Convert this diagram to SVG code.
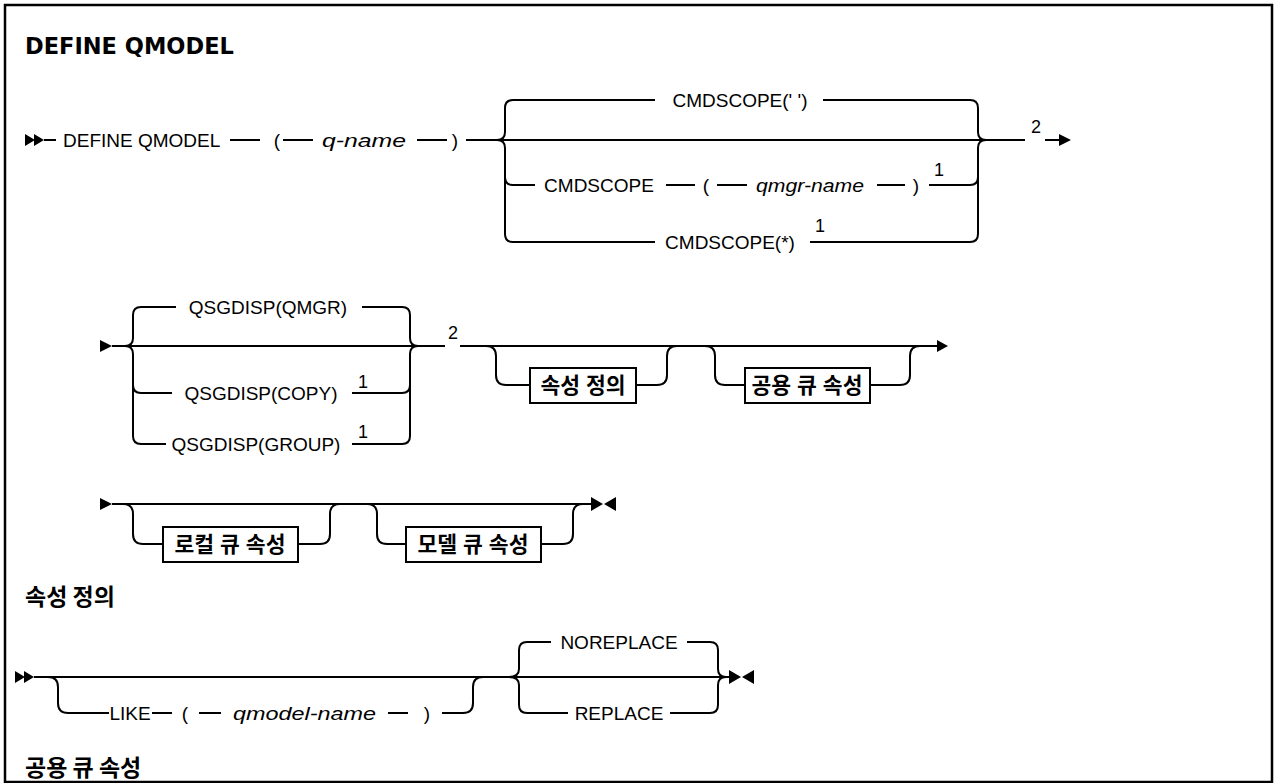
<svg xmlns="http://www.w3.org/2000/svg" width="1274" height="783" viewBox="0 0 1274 783">
<style>
.ln{fill:none;stroke:#000;stroke-width:2}
.ah{fill:#000;stroke:none}
.box{fill:#fff;stroke:#000;stroke-width:2}
.t{font-family:"Liberation Sans",Arial,sans-serif;font-size:19px;fill:#000}
.m{text-anchor:middle}
.i{font-style:italic}
.n{font-family:"Liberation Sans",Arial,sans-serif;font-size:18px;fill:#000;text-anchor:middle}
.k{font-family:"Liberation Sans","Noto Sans CJK KR",sans-serif;font-weight:bold;font-size:21.5px;fill:#000;text-anchor:middle}
.h{font-family:"DejaVu Sans","Noto Sans CJK KR",sans-serif;font-weight:bold;fill:#000}
.hk{font-family:"Noto Sans CJK KR",sans-serif;font-weight:bold;font-size:23px;fill:#000}
</style>
<rect x="0" y="0" width="1274" height="783" fill="#fff"/>
<rect x="5" y="5" width="1267" height="777" fill="none" stroke="#000" stroke-width="2.5"/>
<text class="h" x="25" y="54" font-size="22.5">DEFINE QMODEL</text>
<text class="hk" x="25" y="605">속성 정의</text>
<text class="hk" x="25" y="776">공용 큐 속성</text>

<g id="connectors">
<!-- row 1 -->
<path class="ah" d="M25,134 L35,140 L25,146 Z M34,134 L44,140 L34,146 Z"/>
<path class="ln" d="M44,140 H56 M230,140 H260 M283,140 H313 M417,140 H447 M466,140 H1025"/>
<path class="ln" d="M497,140 Q505,140 505,132 V108 Q505,100 513,100 H655 M823,100 H970 Q978,100 978,108 V132 Q978,140 986,140"/>
<path class="ln" d="M497,140 Q505,140 505,148 V234 Q505,242 513,242 H655 M505,177 Q505,185 513,185 H535"/>
<path class="ln" d="M666,185 H695 M717,185 H747 M877,185 H905 M929,185 H970 Q978,185 978,177"/>
<path class="ln" d="M810,242 H970 Q978,242 978,234 V148 Q978,140 986,140"/>
<path class="ln" d="M1045,140 H1060"/>
<path class="ah" d="M1059,134 L1071,140 L1059,146 Z"/>
<!-- row 2 -->
<path class="ah" d="M100,340 L112,346 L100,352 Z"/>
<path class="ln" d="M112,346 H445 M460,346 H937"/>
<path class="ln" d="M125,346 Q133,346 133,338 V315 Q133,307 141,307 H176 M362,307 H402 Q410,307 410,315 V338 Q410,346 418,346"/>
<path class="ln" d="M125,346 Q133,346 133,354 V436 Q133,444 141,444 H166 M133,385 Q133,393 141,393 H172"/>
<path class="ln" d="M352,393 H402 Q410,393 410,385 M352,444 H402 Q410,444 410,436 V354 Q410,346 418,346"/>
<path class="ln" d="M486,346 Q496,346 496,356 V375 Q496,385 506,385 H530 M636,385 H657 Q667,385 667,375 V356 Q667,346 677,346"/>
<path class="ln" d="M705,346 Q715,346 715,356 V375 Q715,385 725,385 H745 M870,385 H900 Q910,385 910,375 V356 Q910,346 920,346"/>
<path class="ah" d="M937,340 L948,346 L937,352 Z"/>
<!-- row 3 -->
<path class="ah" d="M100,498 L112,504 L100,510 Z"/>
<path class="ln" d="M112,504 H592"/>
<path class="ln" d="M123,504 Q133,504 133,514 V534 Q133,544 143,544 H163 M298,544 H320 Q330,544 330,534 V514 Q330,504 340,504"/>
<path class="ln" d="M367,504 Q377,504 377,514 V534 Q377,544 387,544 H406 M541,544 H563 Q573,544 573,534 V514 Q573,504 583,504"/>
<path class="ah" d="M591,497 L603,504 L591,511 Z M616,497 L604,504 L616,511 Z"/>
<!-- row 4 -->
<path class="ah" d="M15,671 L25,677 L15,683 Z M24,671 L34,677 L24,683 Z"/>
<path class="ln" d="M34,677 H730"/>
<path class="ln" d="M48,677 Q58,677 58,687 V703 Q58,713 68,713 H109 M152,713 H172 M199,713 H221 M388,713 H408 M442,713 H463 Q473,713 473,703 V687 Q473,677 483,677"/>
<path class="ln" d="M509,677 Q519,677 519,669 V650 Q519,642 527,642 H551 M687,642 H710 Q718,642 718,650 V669 Q718,677 726,677"/>
<path class="ln" d="M509,677 Q519,677 519,685 V705 Q519,713 527,713 H568 M670,713 H710 Q718,713 718,705 V685 Q718,677 726,677"/>
<path class="ah" d="M729,670 L741,677 L729,684 Z M754,670 L742,677 L754,684 Z"/>
</g>

<g id="n-define"><text class="t" x="63" y="147">DEFINE QMODEL</text></g>
<g id="n-lp1"><text class="t m" x="277" y="147">(</text></g>
<g id="n-qname"><text class="t i" x="322" y="147" textLength="84" lengthAdjust="spacingAndGlyphs">q-name</text></g>
<g id="n-rp1"><text class="t m" x="455" y="147">)</text></g>
<g id="n-cmd-blank"><text class="t m" x="740" y="107">CMDSCOPE(' ')</text></g>
<g id="n-cmd-qmgr">
<text class="t m" x="599" y="192">CMDSCOPE</text>
<text class="t m" x="706" y="192">(</text>
<text class="t i" x="756" y="192" textLength="108" lengthAdjust="spacingAndGlyphs">qmgr-name</text>
<text class="t m" x="916" y="192">)</text>
<text class="n" x="939" y="176">1</text>
</g>
<g id="n-cmd-star">
<text class="t m" x="730" y="249">CMDSCOPE(*)</text>
<text class="n" x="820" y="232">1</text>
</g>
<g id="n-note2a"><text class="n" x="1036" y="133">2</text></g>

<g id="n-qsg-qmgr"><text class="t m" x="268" y="314">QSGDISP(QMGR)</text></g>
<g id="n-qsg-copy"><text class="t m" x="261" y="400">QSGDISP(COPY)</text><text class="n" x="363" y="388">1</text></g>
<g id="n-qsg-group"><text class="t m" x="256" y="451">QSGDISP(GROUP)</text><text class="n" x="363" y="438">1</text></g>
<g id="n-note2b"><text class="n" x="453" y="339">2</text></g>
<g id="n-attrdef"><rect class="box" x="530" y="368" width="106" height="35"/><text class="k" x="583" y="393">속성 정의</text></g>
<g id="n-shared"><rect class="box" x="745" y="368" width="125" height="35"/><text class="k" x="807" y="393">공용 큐 속성</text></g>
<g id="n-local"><rect class="box" x="163" y="527" width="135" height="35"/><text class="k" x="230" y="552">로컬 큐 속성</text></g>
<g id="n-model"><rect class="box" x="406" y="527" width="135" height="35"/><text class="k" x="473" y="552">모델 큐 속성</text></g>

<g id="n-like">
<text class="t m" x="130" y="720">LIKE</text>
<text class="t m" x="185" y="720">(</text>
<text class="t i" x="233" y="720" textLength="143" lengthAdjust="spacingAndGlyphs">qmodel-name</text>
<text class="t m" x="427" y="720">)</text>
</g>
<g id="n-noreplace"><text class="t m" x="619" y="649">NOREPLACE</text></g>
<g id="n-replace"><text class="t m" x="619" y="720">REPLACE</text></g>
</svg>
